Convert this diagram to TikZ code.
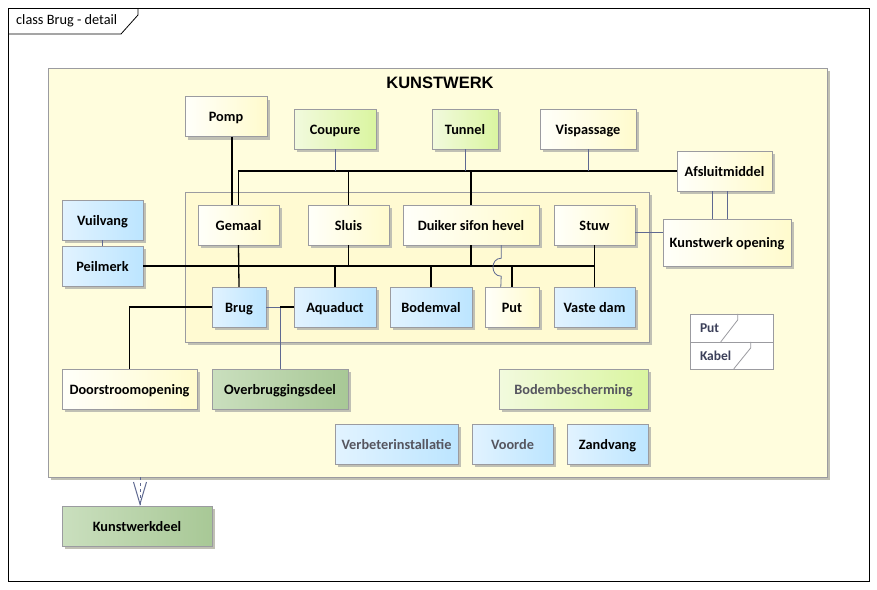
\documentclass[tikz,border=0pt]{standalone}
\usepackage{fontspec}
\setmainfont{Carlito}
\newfontfamily\titelfont{Liberation Sans}
\usetikzlibrary{
  arrows.meta,
  positioning,
  shadows,      % drop shadow
}
\definecolor{pakketgeel}{RGB}{255,253,221}
\definecolor{grensgeel}{RGB}{255,250,210}
\definecolor{randgrijs}{RGB}{155,155,160}
\definecolor{schaduw}{RGB}{192,192,180}
\definecolor{lijnblauw}{RGB}{95,105,145}
\definecolor{tekstgrijs}{RGB}{85,85,95}
\definecolor{legendatekst}{RGB}{60,64,90}
\definecolor{witL}{RGB}{255,255,250}
\definecolor{witR}{RGB}{255,251,205}
\definecolor{groenL}{RGB}{242,250,222}
\definecolor{groenR}{RGB}{218,245,160}
\definecolor{blauwL}{RGB}{226,243,255}
\definecolor{blauwR}{RGB}{188,229,255}
\definecolor{donkerL}{RGB}{202,223,190}
\definecolor{donkerR}{RGB}{168,200,150}
\tikzset{
  my shadow/.style={
    drop shadow={shadow xshift=3pt,shadow yshift=-3pt,fill=schaduw,opacity=1}
  },
  my class/.style={
    draw=randgrijs,
    rectangle,
    minimum height=40pt,
    inner sep=0pt,
    text height=10pt,
    text depth=0pt,
    font=\fontsize{14.3}{16}\selectfont\bfseries,
    my shadow
  },
  wit/.style={my class,left color=witL,right color=witR},
  groen/.style={my class,left color=groenL,right color=groenR},
  blauw/.style={my class,left color=blauwL,right color=blauwR},
  donker/.style={my class,left color=donkerL,right color=donkerR},
  grijstekst/.style={text=tekstgrijs},
  assoc/.style={line width=1.3pt,black},
  link/.style={line width=0.8pt,lijnblauw},
  realiseer/.style={
    line width=0.8pt,lijnblauw,
    dash pattern=on 3pt off 3pt
  },
  realiseerpunt/.style={
    line width=1pt,lijnblauw,
    -{Straight Barb[length=22pt,width=13pt,line width=1pt]}
  },
  legenda/.style={
    draw=randgrijs,fill=white,
    text width=63pt,align=left,
    inner xsep=10pt,inner ysep=0pt,
    font=\fontsize{13.5}{15}\selectfont\bfseries,
    text=legendatekst
  }
}

\begin{document}
\begin{tikzpicture}[x=1pt,y=-1pt]
\useasboundingbox[fill=white] (0,0) rectangle (877,589);
% frame
\draw[line width=0.8pt] (8,8) rectangle (869,581);
\draw[line width=0.8pt] (8,34) -- (121,34) -- (138,15) -- (138,8);
\node[anchor=west,inner sep=0pt,font=\fontsize{14.3}{16}\selectfont] (framelabel) at (16,21) {class Brug - detail};

% pakket en grens
\node[draw=randgrijs,fill=pakketgeel,my shadow,minimum width=779pt,minimum height=409pt] (kunstwerk) at (437.5,272.5) {};
\node[font=\titelfont\bfseries\fontsize{16.5}{19}\selectfont] (titel) at (440,83) {KUNSTWERK};
\node[draw=randgrijs,fill=grensgeel,my shadow,minimum width=464pt,minimum height=150pt] (grens) at (417,267) {};

% klassen
\node[wit,   minimum width=82pt]  (pomp)      at (226,116.5) {Pomp};
\node[groen, minimum width=82pt]  (coupure)   at (335,129)   {Coupure};
\node[groen, minimum width=66pt]  (tunnel)    at (465,129)   {Tunnel};
\node[wit,   minimum width=96pt]  (vispas)    at (588,129)   {Vispassage};
\node[wit,   minimum width=95pt]  (afsluit)   at (724.5,171) {Afsluitmiddel};
\node[wit,   minimum width=128pt,minimum height=47pt] (kwopening) at (727,242.5) {Kunstwerk opening};
\node[blauw, minimum width=81pt]  (vuilvang)  at (102.5,220) {Vuilvang};
\node[blauw, minimum width=81pt]  (peilmerk)  at (102.5,266) {Peilmerk};
\node[wit,   minimum width=81pt]  (gemaal)    at (238.5,225) {Gemaal};
\node[wit,   minimum width=81pt]  (sluis)     at (348.5,225) {Sluis};
\node[wit,   minimum width=136pt] (duiker)    at (471,225)   {Duiker sifon hevel};
\node[wit,   minimum width=81pt]  (stuw)      at (594.5,225) {Stuw};
\node[blauw, minimum width=54pt]  (brug)      at (239,307)   {Brug};
\node[blauw, minimum width=82pt]  (aquaduct)  at (335,307)   {Aquaduct};
\node[blauw, minimum width=82pt]  (bodemval)  at (431,307)   {Bodemval};
\node[wit,   minimum width=54pt]  (put)       at (512,307)   {Put};
\node[blauw, minimum width=81pt]  (vastedam)  at (594.5,307) {Vaste dam};
\node[wit,   minimum width=135pt] (doorstroom) at (129.5,389) {Doorstroomopening};
\node[donker,minimum width=136pt] (overbrug)  at (280,389)   {Overbruggingsdeel};
\node[groen, minimum width=149pt,grijstekst] (bodembesch) at (573.5,389) {Bodembescherming};
\node[blauw, minimum width=123pt,grijstekst] (verbeter) at (396.5,444) {Verbeterinstallatie};
\node[blauw, minimum width=81pt, grijstekst] (voorde)   at (512.5,444) {Voorde};
\node[blauw, minimum width=81pt]  (zandvang)  at (607.5,444) {Zandvang};
\node[donker,minimum width=150pt] (kwdeel)    at (137,526)   {Kunstwerkdeel};

% legenda
\node[legenda,minimum height=28pt] (legput)   at (731.5,328)   {Put};
\node[legenda,minimum height=27pt] (legkabel) at (731.5,355.5) {Kabel};
\draw[randgrijs,line width=0.8pt] ([xshift=48pt]legput.north west) -- ++(0,6) -- ++(-17,22);
\draw[randgrijs,line width=0.8pt] ([xshift=61pt]legkabel.north west) -- ++(0,6) -- ++(-17,21);

% verbindingen boven
\draw[assoc] ([xshift=6pt]pomp.south) -- ([xshift=6pt]pomp.south |- gemaal.north);
\draw[assoc] (afsluit.west) -- (afsluit.west -| gemaal.north) -- (gemaal.north);
\draw[assoc] (sluis.north) -- (sluis.north |- afsluit.west);
\draw[assoc] (duiker.north) -- (duiker.north |- afsluit.west);
\draw[link] (coupure.south) -- (coupure.south |- afsluit.west);
\draw[link] (tunnel.south) -- (tunnel.south |- afsluit.west);
\draw[link] (vispas.south) -- (vispas.south |- afsluit.west);
\draw[link] ([xshift=-12pt]afsluit.south) -- ([xshift=-12pt]afsluit.south |- kwopening.north);
\draw[link] ([xshift=3pt]afsluit.south) -- ([xshift=3pt]afsluit.south |- kwopening.north);
\draw[link] ([yshift=-7pt]stuw.east) -- ([yshift=-7pt]stuw.east -| kwopening.west);
\draw[link] (vuilvang.south) -- (peilmerk.north);

% verbindingen midden
\draw[assoc] (gemaal.south) -- (brug.north);
\draw[assoc] (peilmerk.east) -- (peilmerk.east -| vastedam.north);
\draw[assoc] (sluis.south) -- (sluis.south |- peilmerk.east);
\draw[assoc] (duiker.south) -- (duiker.south |- peilmerk.east);
\draw[assoc] (aquaduct.north) -- (aquaduct.north |- peilmerk.east);
\draw[assoc] (bodemval.north) -- (bodemval.north |- peilmerk.east);
\draw[assoc] (put.north) -- (put.north |- peilmerk.east);
\draw[assoc] (stuw.south) -- (vastedam.north);
\draw[link] ([xshift=-38pt]duiker.south east) -- ++(0,13)
  .. controls ++(-11,0) and ++(-11,0) .. ++(0,18)
  -- ([xshift=16pt]put.north west);

% verbindingen onder
\draw[assoc] (brug.west) -- (brug.west -| doorstroom.north) -- (doorstroom.north);
\draw[link] (brug.east) -- (brug.east -| overbrug.north) -- (overbrug.north);
\draw[assoc] (aquaduct.west) -- (aquaduct.west -| overbrug.north);
\draw[realiseer] ([xshift=3pt]kunstwerk.south -| kwdeel.north) -- ([xshift=3pt]kwdeel.north);
\draw[realiseerpunt] ([xshift=3pt,yshift=1pt]kwdeel.north) -- ([xshift=3pt]kwdeel.north);
\end{tikzpicture}
\end{document}
